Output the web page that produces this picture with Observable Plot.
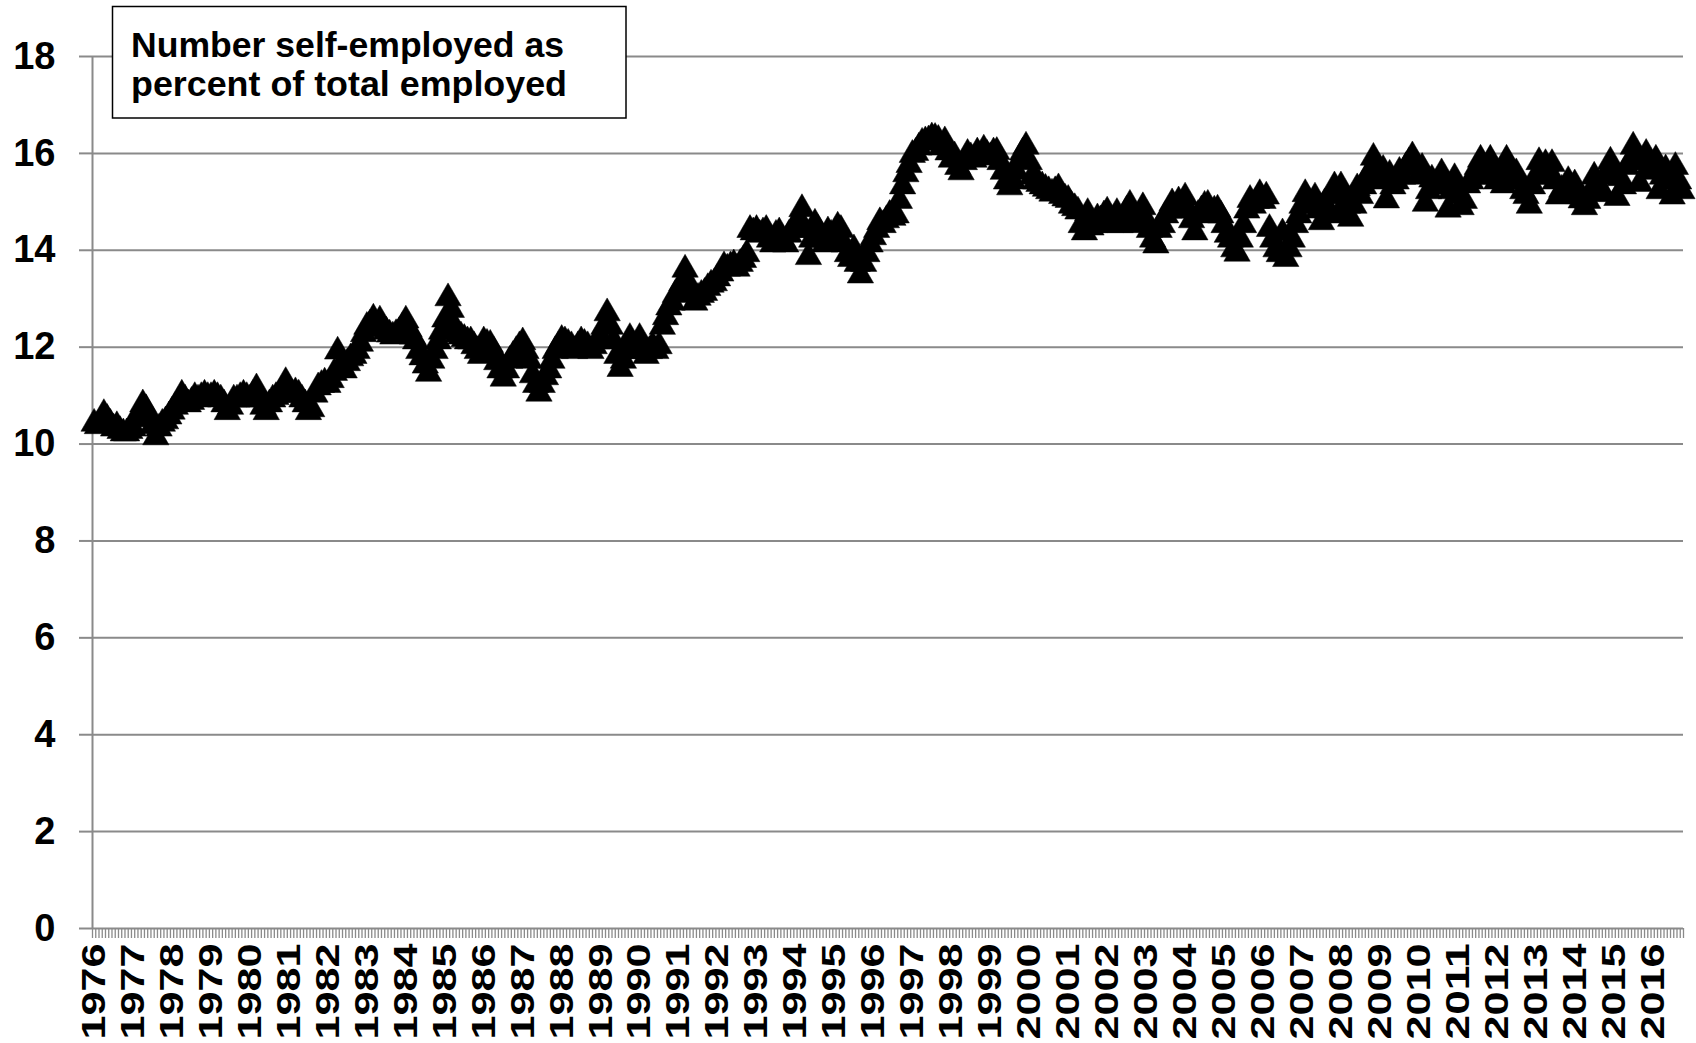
<!DOCTYPE html>
<html>
<head>
<meta charset="utf-8">
<script src="https://cdn.jsdelivr.net/npm/d3@7"></script>
<script src="https://cdn.jsdelivr.net/npm/@observablehq/plot@0.6"></script>
<style>
  html, body { margin: 0; padding: 0; background: #fff; }
  #chart { width: 1696px; height: 1043px; overflow: hidden; }
</style>
</head>
<body>
<div id="chart"></div>
<script>
// Monthly self-employment share (% of total employed), Jan 1976 - Oct 2016
const yearLabels = d3.range(1976, 2017);
const yTicks = [0, 2, 4, 6, 8, 10, 12, 14, 16, 18];
const boxLines = ["Number self-employed as", "percent of total employed"];
const selfEmployedPct = [
  // 1976
  10.5, 10.45, 10.55, 10.7, 10.6, 10.5, 10.4, 10.45, 10.35, 10.3, 10.3, 10.35,
  // 1977
  10.4, 10.6, 10.75, 10.9, 10.8, 10.6, 10.45, 10.22, 10.4, 10.5, 10.55, 10.65,
  // 1978
  10.75, 10.85, 10.95, 11.1, 11.0, 10.9, 10.95, 11.05, 11.0, 11.05, 11.1, 11.05,
  // 1979
  11.05, 11.1, 11.05, 11.0, 10.9, 10.74, 10.85, 11.0, 11.0, 11.05, 11.1, 11.05,
  // 1980
  11.0, 11.1, 11.23, 11.0, 10.85, 10.74, 10.9, 11.0, 11.05, 11.1, 11.2, 11.36,
  // 1981
  11.2, 11.1, 11.15, 11.1, 11.0, 10.9, 10.74, 10.8, 11.1, 11.25, 11.3, 11.35,
  // 1982
  11.3, 11.4, 11.55, 11.99, 11.7, 11.6, 11.75, 11.85, 11.9, 12.0, 12.15, 12.35,
  // 1983
  12.5, 12.55, 12.67, 12.5, 12.63, 12.45, 12.4, 12.34, 12.3, 12.35, 12.4, 12.5,
  // 1984
  12.63, 12.45, 12.3, 12.2, 12.0, 11.87, 11.7, 11.53, 11.8, 12.0, 12.2, 12.4,
  // 1985
  12.65, 13.09, 12.85, 12.5, 12.34, 12.3, 12.25, 12.2, 12.2, 12.1, 12.0, 11.9,
  // 1986
  12.2, 12.15, 12.13, 12.0, 11.77, 11.6, 11.43, 11.6, 11.8, 11.9, 12.0, 12.1,
  // 1987
  12.18, 12.0, 11.8, 11.5, 11.3, 11.12, 11.3, 11.46, 11.6, 11.8, 12.0, 12.1,
  // 1988
  12.23, 12.2, 12.15, 12.1, 12.0, 12.1, 12.2, 12.15, 12.1, 12.0, 12.1, 12.2,
  // 1989
  12.3, 12.5, 12.78, 12.5, 12.2, 11.9, 11.63, 11.8, 12.0, 12.27, 12.1, 12.0,
  // 1990
  12.27, 12.0, 11.9, 12.0, 12.1, 12.0, 12.1, 12.5, 12.7, 12.9, 13.0, 13.16,
  // 1991
  13.2, 13.4, 13.68, 13.4, 13.2, 13.0, 13.1, 13.16, 13.2, 13.3, 13.37, 13.4,
  // 1992
  13.5, 13.6, 13.75, 13.7, 13.75, 13.79, 13.7, 13.8, 13.88, 14.0, 14.5, 14.45,
  // 1993
  14.5, 14.4, 14.45, 14.5, 14.3, 14.2, 14.4, 14.45, 14.3, 14.2, 14.4, 14.5,
  // 1994
  14.6, 14.7, 14.93, 14.5, 13.94, 14.3, 14.63, 14.5, 14.3, 14.2, 14.47, 14.4,
  // 1995
  14.3, 14.57, 14.5, 14.2, 14.0, 13.9, 14.1, 13.8, 13.56, 13.8, 14.0, 14.2,
  // 1996
  14.35, 14.5, 14.66, 14.6, 14.7, 14.81, 14.75, 14.8, 15.1, 15.4, 15.65, 15.84,
  // 1997
  16.05, 16.09, 16.2, 16.3, 16.33, 16.35, 16.41, 16.4, 16.36, 16.2, 16.33, 16.1,
  // 1998
  15.95, 16.02, 15.8, 15.69, 15.9, 16.07, 16.0, 15.95, 16.1, 16.0, 16.16, 16.05,
  // 1999
  16.0, 16.1, 16.11, 15.9, 15.7, 15.5, 15.38, 15.5, 15.7, 15.93, 16.1, 16.22,
  // 2000
  15.9, 15.6, 15.5, 15.45, 15.4, 15.35, 15.3, 15.25, 15.3, 15.36, 15.2, 15.15,
  // 2001
  15.12, 15.0, 14.95, 14.88, 14.6, 14.45, 14.85, 14.55, 14.6, 14.74, 14.7, 14.8,
  // 2002
  14.88, 14.6, 14.7, 14.85, 14.6, 14.7, 14.9, 15.02, 14.8, 14.6, 14.7, 14.97,
  // 2003
  14.7, 14.5, 14.3, 14.18, 14.5, 14.6, 14.8, 14.9, 15.05, 14.9, 15.09, 15.0,
  // 2004
  15.17, 14.9, 14.7, 14.45, 14.81, 14.9, 15.0, 15.02, 14.8, 14.9, 14.92, 14.8,
  // 2005
  14.6, 14.4, 14.3, 14.1, 14.01, 14.3, 14.6, 14.9, 15.12, 15.0, 15.1, 15.24,
  // 2006
  15.1, 15.19, 14.52, 14.3, 14.1, 14.0, 14.43, 13.9, 14.1, 14.3, 14.6, 14.8,
  // 2007
  15.0, 15.24, 15.1, 15.0, 15.17, 14.9, 14.66, 15.05, 14.9, 15.2, 15.4, 14.8,
  // 2008
  15.4, 15.2, 15.0, 14.73, 15.0, 15.36, 15.2, 15.4, 15.6, 15.7, 15.99, 15.6,
  // 2009
  15.5, 15.74, 15.11, 15.64, 15.4, 15.5, 15.7, 15.6, 15.8, 15.9, 16.02, 15.8,
  // 2010
  15.6, 15.78, 15.04, 15.3, 15.54, 15.4, 15.5, 15.67, 15.4, 14.92, 15.3, 15.57,
  // 2011
  15.2, 14.97, 15.1, 15.42, 15.5, 15.6, 15.8, 15.95, 15.7, 15.6, 15.95, 15.7,
  // 2012
  15.5, 15.6, 15.42, 15.95, 15.8, 15.5, 15.67, 15.5, 15.3, 15.2, 15.0, 15.4,
  // 2013
  15.6, 15.9, 15.7, 15.86, 15.6, 15.86, 15.5, 15.19, 15.33, 15.3, 15.51, 15.3,
  // 2014
  15.44, 15.2, 15.11, 14.97, 15.1, 15.3, 15.6, 15.45, 15.3, 15.24, 15.7, 15.91,
  // 2015
  15.6, 15.16, 15.57, 15.4, 15.8, 15.9, 16.22, 16.0, 15.45, 15.9, 16.07, 15.8,
  // 2016 (Jan-Oct)
  15.7, 15.95, 15.3, 15.6, 15.75, 15.5, 15.19, 15.8, 15.5, 15.3
];

const GRID = "#8a8a8a";
const FONT = "'Liberation Sans', Arial, sans-serif";
const nMonths = selfEmployedPct.length;
const data = selfEmployedPct.map((v, i) => ({i, v}));
const labelPos = yearLabels.map((y, k) => k * 12 + 0.5);

const chart = Plot.plot({
  width: 1696,
  height: 1043,
  marginTop: 56,
  marginBottom: 115,
  marginLeft: 92,
  marginRight: 13,
  style: {fontFamily: FONT, background: "#fff", overflow: "visible", color: "#000"},
  x: {domain: [0, nMonths], label: null},
  y: {domain: [0, 18], label: null},
  marks: [
    Plot.ruleY(yTicks, {stroke: GRID, strokeWidth: 2}),
    Plot.axisY(yTicks, {tickSize: 13, tickPadding: 24, stroke: GRID, strokeWidth: 2, strokeOpacity: 1,
      fontSize: 38, fontWeight: "bold", label: null, tickFormat: d => String(d)}),
    Plot.ruleX([0], {stroke: GRID, strokeWidth: 2}),
    Plot.axisX(d3.range(nMonths + 1), {tickSize: 10, stroke: GRID, strokeWidth: 1.3, strokeOpacity: 1,
      label: null, tickFormat: () => ""}),
    Plot.axisX(labelPos, {tickSize: 0, tickPadding: 15, tickRotate: -90, fontSize: 34, fontWeight: "bold",
      label: null, tickFormat: d => String(yearLabels[Math.round((d - 0.5) / 12)])}),
    Plot.dot(data, {x: d => d.i + 0.5, y: "v", symbol: "triangle", r: 9.8, fill: "#000", stroke: "#000", strokeWidth: 0.5, dy: 3.8})
  ]
});

const svg = d3.select(chart);
// stretch the year labels along their length, as in the reference
svg.selectAll("text").filter(function () { return /^\d{4}$/.test(this.textContent); })
  .attr("textLength", 96).attr("lengthAdjust", "spacingAndGlyphs");

// annotation box
const g = svg.append("g");
g.append("rect").attr("x", 112.5).attr("y", 6.5).attr("width", 513.5).attr("height", 111.5)
  .attr("fill", "#fff").attr("stroke", "#000").attr("stroke-width", 1.5);
g.selectAll("text.box").data(boxLines).join("text")
  .attr("class", "box")
  .attr("x", 131)
  .attr("y", (d, i) => 57 + i * 39)
  .attr("text-anchor", "start")
  .attr("font-family", FONT)
  .attr("font-size", 35)
  .attr("font-weight", "bold")
  .attr("fill", "#000")
  .attr("textLength", (d, i) => i === 0 ? 433 : 436)
  .attr("lengthAdjust", "spacingAndGlyphs")
  .text(d => d);

document.getElementById("chart").appendChild(chart);
</script>
</body>
</html>
